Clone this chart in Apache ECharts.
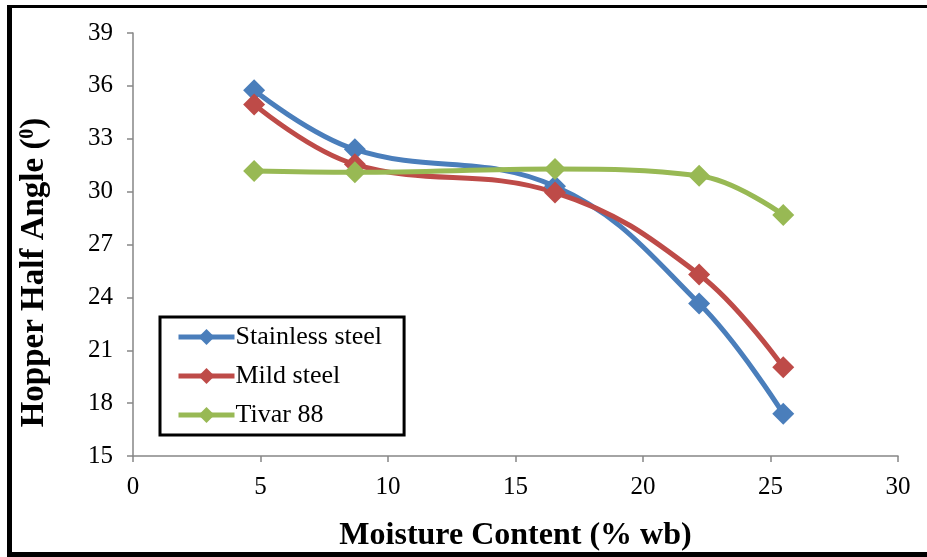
<!DOCTYPE html>
<html><head><meta charset="utf-8">
<script src="https://cdn.jsdelivr.net/npm/echarts@6/dist/echarts.min.js"></script>
<style>
html,body{margin:0;padding:0;background:#fff;overflow:hidden;}
#frame{position:absolute;left:7px;top:5px;width:940px;height:552px;border-left:5px solid #000;border-top:3px solid #000;border-bottom:5px solid #000;box-sizing:border-box;}
#c{position:absolute;left:0;top:0;width:927px;height:557px;}
</style></head>
<body>
<div id="c"></div>
<div id="frame"></div>
<script>
const moisture = [4.75, 8.7, 16.55, 22.2, 25.5];
const stainless = [35.75, 32.4, 30.3, 23.65, 17.4];
const mild = [34.95, 31.55, 29.95, 25.3, 20.03];
const tivar = [31.17, 31.1, 31.28, 30.9, 28.68];
const seriesNames = ['Stainless steel', 'Mild steel', 'Tivar 88'];
const colors = ['#4A7EBB', '#BE4B48', '#98B954'];

const font = 'Liberation Serif';
function mk(name, vals, color) {
  return {
    name: name, type: 'line', smooth: 0.4,
    data: moisture.map((x, i) => [x, vals[i]]),
    symbol: 'diamond', symbolSize: 22,
    lineStyle: {color: color, width: 5},
    itemStyle: {color: color},
    z: 3
  };
}
const chart = echarts.init(document.getElementById('c'));
chart.setOption({
  animation: false,
  grid: {left: 133, top: 33, right: 29, bottom: 101},
  legend: {
    orient: 'vertical', left: 160, top: 317,
    data: seriesNames,
    itemWidth: 56, itemHeight: 20, itemGap: 13,
    padding: [7, 22, 7, 16],
    borderColor: '#000', borderWidth: 3,
    backgroundColor: '#fff',
    lineStyle: {width: 5},
    textStyle: {fontFamily: font, fontSize: 26, color: '#000', padding: [0,0,0,-4]}
  },
  xAxis: {
    type: 'value', min: 0, max: 30, interval: 5,
    name: 'Moisture Content (% wb)', nameLocation: 'middle', nameGap: 64,
    nameTextStyle: {fontFamily: font, fontSize: 32, fontWeight: 'bold', color: '#000'},
    axisLine: {lineStyle: {color: '#868686', width: 1.5}},
    axisTick: {show: true, length: 6, inside: false, lineStyle: {color: '#868686', width: 1.5}},
    axisLabel: {fontFamily: font, fontSize: 25, color: '#000', margin: 19},
    splitLine: {show: false}
  },
  yAxis: {
    type: 'value', min: 15, max: 39, interval: 3,
    name: 'Hopper Half Angle ({s|0})', nameLocation: 'middle', nameGap: 82, nameRotate: 90,
    nameTextStyle: {fontFamily: font, fontSize: 33, fontWeight: 'bold', color: '#000', padding: [0, 56, 0, 0],
      rich: {s: {fontFamily: font, fontSize: 20, fontWeight: 'bold', color: '#000', verticalAlign: 'top', padding: [0,0,12,0]}}},
    axisLine: {show: true, lineStyle: {color: '#868686', width: 1.5}},
    axisTick: {show: true, length: 6, inside: false, lineStyle: {color: '#868686', width: 1.5}},
    axisLabel: {fontFamily: font, fontSize: 25, color: '#000', margin: 20},
    splitLine: {show: false}
  },
  series: [mk(seriesNames[0], stainless, colors[0]), mk(seriesNames[1], mild, colors[1]), mk(seriesNames[2], tivar, colors[2])]
});
</script>
</body></html>
